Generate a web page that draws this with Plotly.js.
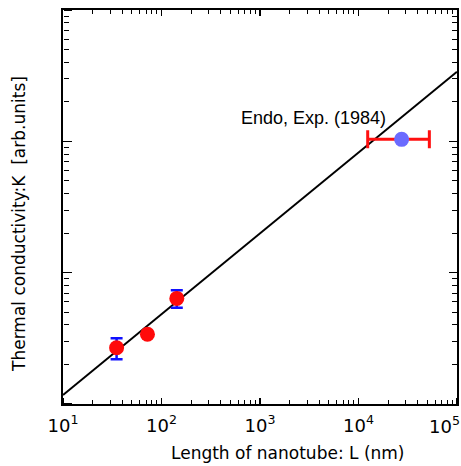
<!DOCTYPE html>
<html><head><meta charset="utf-8">
<script src="https://cdn.plot.ly/plotly-3.0.1.min.js"></script>
<style>html,body{margin:0;padding:0;background:#fff}</style>
</head><body>
<div id="chart" style="width:461px;height:466px"></div>
<script>
// Calculated red points (length in nm, conductivity arb. units)
const calcL = [35, 72, 143];
const calcK = [2.68, 3.40, 6.37];
const calcErrPlus = [0.48, 0, 0.99];
const calcErrMinus = [0.49, 0, 0.96];
// Experiment (Endo 1984)
const expL = [27400];
const expK = [103.5];
const expErrPlus = [25000];
const expErrMinus = [15000];
// Fit line endpoints
const fitL = [10, 100000];
const fitK = [1.17, 339];
const xTickVals = [10, 100, 1000, 10000, 100000];
const xTickText = ['10<sup>1</sup>', '10<sup>2</sup>', '10<sup>3</sup>', '10<sup>4</sup>', '10<sup>5</sup>'];
const yTickVals = [1, 10, 100, 1000];
const annText = 'Endo, Exp. (1984)';
const xTitle = 'Length of nanotube: L (nm)';
const yTitle = 'Thermal conductivity:K  [arb.units]';

// minor log tick positions (2..9 per decade)
function minorTicks(lo, hi) {
  const out = [];
  for (let e = lo; e < hi; e++) for (let m = 2; m <= 9; m++) out.push(m * Math.pow(10, e));
  return out;
}

const font = 'DejaVu Sans, Verdana, sans-serif';
const carrier = (xa, ya) => ({x: fitL, y: fitK, xaxis: xa, yaxis: ya, mode: 'lines', opacity: 0,
  line: {width: 0}, hoverinfo: 'skip'});
const traces = [
  {x: fitL, y: fitK, mode: 'lines', line: {color: '#000', width: 2}, hoverinfo: 'skip'},
  {x: calcL, y: calcK, mode: 'markers', marker: {color: '#ff0a0a', size: 15},
   error_y: {type: 'data', symmetric: false, array: calcErrPlus, arrayminus: calcErrMinus,
             color: '#1010ff', thickness: 2.5, width: 6}},
  {x: expL, y: expK, mode: 'markers', marker: {color: '#6b6bff', size: 15},
   error_x: {type: 'data', symmetric: false, array: expErrPlus, arrayminus: expErrMinus,
             color: '#ff1010', thickness: 3, width: 9}},
  // invisible carrier traces so the tick-only overlay axes are drawn
  carrier('x2', 'y2'), carrier('x3', 'y3'), carrier('x4', 'y4')
];
const tickAx = (extra) => Object.assign({showticklabels: false, showline: false, showgrid: false,
  zeroline: false, tickmode: 'array', tickcolor: '#000'}, extra);
const layout = {
  width: 461, height: 466,
  margin: {l: 63, r: 4, t: 10, b: 62},
  showlegend: false,
  paper_bgcolor: '#fff', plot_bgcolor: '#fff',
  font: {family: font, color: '#000'},
  xaxis: {
    type: 'log', range: [1, 5], tickmode: 'array', tickvals: xTickVals, ticktext: xTickText,
    ticklabelstandoff: 4,
    tickfont: {size: 18, family: font}, ticks: 'inside', ticklen: 6, tickwidth: 1.5, tickcolor: '#000',
    mirror: 'ticks', showline: true, linewidth: 2, linecolor: '#000', showgrid: false, zeroline: false
  },
  yaxis: {
    type: 'log', range: [0, 3], tickmode: 'array', tickvals: yTickVals, showticklabels: false,
    ticks: 'inside', ticklen: 8, tickwidth: 1.5, tickcolor: '#000',
    mirror: 'ticks', showline: true, linewidth: 2, linecolor: '#000', showgrid: false, zeroline: false
  },
  // minor ticks along top / right edges
  xaxis2: tickAx({type: 'log', range: [1, 5], overlaying: 'x', side: 'top', anchor: 'y',
    tickvals: minorTicks(1, 5), ticks: 'inside', ticklen: 4, tickwidth: 1}),
  yaxis2: tickAx({type: 'log', range: [0, 3], overlaying: 'y', side: 'right', anchor: 'x',
    tickvals: minorTicks(0, 3), ticks: 'inside', ticklen: 5, tickwidth: 1}),
  // minor ticks along bottom / left edges (pointing into the plot)
  xaxis3: tickAx({type: 'log', range: [1, 5], overlaying: 'x', side: 'top', anchor: 'free', position: 0,
    tickvals: minorTicks(1, 5), ticks: 'outside', ticklen: 4, tickwidth: 1}),
  yaxis3: tickAx({type: 'log', range: [0, 3], overlaying: 'y', side: 'right', anchor: 'free', position: 0,
    tickvals: minorTicks(0, 3), ticks: 'outside', ticklen: 5, tickwidth: 1}),
  // major ticks along bottom / left edges
  xaxis4: tickAx({type: 'log', range: [1, 5], overlaying: 'x', side: 'top', anchor: 'free', position: 0,
    tickvals: xTickVals, ticks: 'outside', ticklen: 6, tickwidth: 1.5}),
  yaxis4: tickAx({type: 'log', range: [0, 3], overlaying: 'y', side: 'right', anchor: 'free', position: 0,
    tickvals: yTickVals, ticks: 'outside', ticklen: 8, tickwidth: 1.5}),
  annotations: [
    {x: Math.log10(19900), y: Math.log10(122), xref: 'x', yref: 'y', text: annText,
     showarrow: false, xanchor: 'right', yanchor: 'bottom',
     font: {size: 18, family: 'Liberation Sans, Arial, sans-serif'}},
    {x: 0.5698, y: -0.1244, xref: 'paper', yref: 'paper', text: xTitle, showarrow: false,
     xanchor: 'center', yanchor: 'middle', font: {size: 17, family: font}},
    {x: -0.1117, y: 0.4569, xref: 'paper', yref: 'paper', text: yTitle, showarrow: false,
     textangle: -90, xanchor: 'center', yanchor: 'middle', font: {size: 17, family: font}},
    // last tick label, pulled inside the page edge (the axis hides it as overflowing)
    {x: 1.0102, y: -0.0533, xref: 'paper', yref: 'paper', text: xTickText[4], showarrow: false,
     xanchor: 'right', yanchor: 'middle', borderpad: 0, font: {size: 18, family: font}}
  ]
};
Plotly.newPlot('chart', traces, layout, {staticPlot: true});
</script>
</body></html>
